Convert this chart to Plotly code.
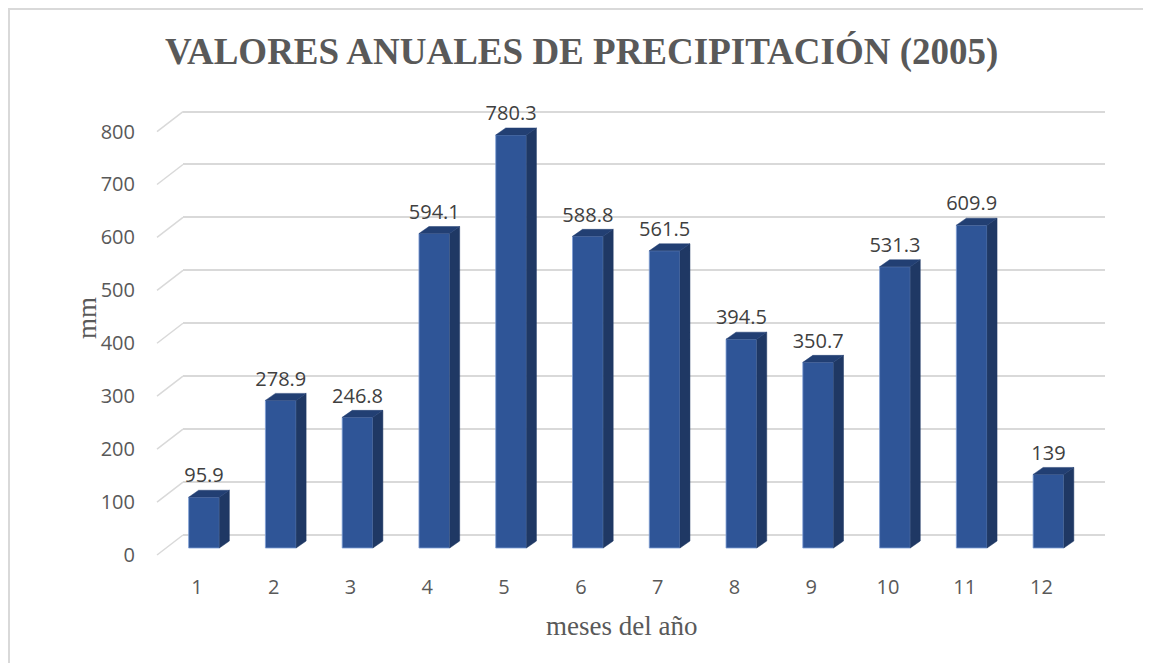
import plotly.graph_objects as go

# ---- data ----
months = [1, 2, 3, 4, 5, 6, 7, 8, 9, 10, 11, 12]
precip = [95.9, 278.9, 246.8, 594.1, 780.3, 588.8, 561.5, 394.5, 350.7, 531.3, 609.9, 139]
labels = ["95.9", "278.9", "246.8", "594.1", "780.3", "588.8", "561.5", "394.5", "350.7", "531.3", "609.9", "139"]
y_ticks = [0, 100, 200, 300, 400, 500, 600, 700, 800]
title_text = "VALORES ANUALES DE PRECIPITACIÓN (2005)"
x_title = "meses del año"
y_title = "mm"

# ---- layout geometry (page pixels; the html body adds an 8px margin) ----
OFF = 8
PAGE_W, PAGE_H = 1151, 671
W, H = PAGE_W - 2 * OFF, PAGE_H - 2 * OFF

def fx(px):
    return px - OFF

grid_left_px = 183
grid_right_px = 1105
plot_top_px = 95
plot_bot_px = 560
axis_label_px = 157

L = fx(axis_label_px)
R = W - fx(grid_right_px)
T = fx(plot_top_px)
B = H - fx(plot_bot_px)
plot_w = W - L - R
plot_h = H - T - B

scale = 0.5293          # px per mm
px_per_cat = 76.77
bar_center0 = 204       # page pixel of month-1 bar centre
label_center0 = 197     # page pixel of month-1 tick label

def yrange(zero_px):
    return [-(plot_bot_px - zero_px) / scale, (zero_px - plot_top_px) / scale]

def xrange(c0):
    return [1 + (grid_left_px - c0) / px_per_cat, 1 + (grid_right_px - c0) / px_per_cat]

def paper_x(px):
    return (px - axis_label_px) / plot_w

def paper_y(py):
    return (plot_bot_px - py) / plot_h

dom_x0 = paper_x(grid_left_px)

FRONT = "#2F5597"
SIDE = "#1F3864"
TOP = "#223F73"
GRID = "#D9D9D9"
TXT = "#595959"

bar_w = 0.40
dx = 10 / px_per_cat
dy = 7 / scale
hw = bar_w / 2

side_x, side_y, top_x, top_y = [], [], [], []
for m, v in zip(months, precip):
    side_x += [m + hw, m + hw + dx, m + hw + dx, m + hw, m + hw, None]
    side_y += [0, dy, v + dy, v, 0, None]
    top_x += [m - hw, m - hw + dx, m + hw + dx, m + hw, m - hw, None]
    top_y += [v, v + dy, v + dy, v, v, None]

fig = go.Figure()

# front faces
fig.add_trace(go.Bar(x=months, y=precip, width=bar_w, xaxis="x", yaxis="y3",
                     marker=dict(color=FRONT, line=dict(color="#7F9ED6", width=0.8)),
                     hoverinfo="skip", showlegend=False))
# side faces
fig.add_trace(go.Scatter(x=side_x, y=side_y, xaxis="x", yaxis="y3", mode="lines",
                         fill="toself", fillcolor=SIDE, line=dict(color=SIDE, width=0.5),
                         hoverinfo="skip", showlegend=False))
# top faces
fig.add_trace(go.Scatter(x=top_x, y=top_y, xaxis="x", yaxis="y3", mode="lines",
                         fill="toself", fillcolor=TOP, line=dict(color=TOP, width=0.5),
                         hoverinfo="skip", showlegend=False))
# data labels
fig.add_trace(go.Scatter(x=months, y=precip, xaxis="x", yaxis="y3", mode="markers+text",
                         text=labels, textposition="top center",
                         marker=dict(size=14, color="rgba(0,0,0,0)"),
                         textfont=dict(family="Open Sans", size=20, color="#404040"),
                         hoverinfo="skip", showlegend=False, cliponaxis=False))
# carrier trace for label axes
fig.add_trace(go.Scatter(x=months, y=precip, xaxis="x2", yaxis="y2", mode="markers",
                         marker=dict(size=1, color="rgba(0,0,0,0)"),
                         hoverinfo="skip", showlegend=False))

# perspective stubs on the left of each grid line
shapes = []
for v in y_ticks:
    shapes.append(dict(type="line", xref="paper", yref="y", xsizemode="pixel", ysizemode="pixel",
                       xanchor=dom_x0, yanchor=v, x0=0, x1=-26, y0=0, y1=-20,
                       line=dict(color=GRID, width=1.5), layer="below"))
# outer chart border: only the left and top edges fall inside the picture
shapes.append(dict(type="line", xref="paper", yref="paper",
                   x0=paper_x(OFF), x1=paper_x(PAGE_W + 40),
                   y0=paper_y(OFF + 1), y1=paper_y(OFF + 1),
                   line=dict(color=GRID, width=2), layer="below"))
shapes.append(dict(type="line", xref="paper", yref="paper",
                   x0=paper_x(OFF + 1), x1=paper_x(OFF + 1),
                   y0=paper_y(OFF), y1=paper_y(PAGE_H + 40),
                   line=dict(color=GRID, width=2), layer="below"))

annotations = [
    dict(text="<b>" + title_text + "</b>", xref="paper", yref="paper",
         x=paper_x(581), y=paper_y(52), showarrow=False,
         xanchor="center", yanchor="middle",
         font=dict(family="Liberation Serif", size=37, color=TXT)),
    dict(text=x_title, xref="paper", yref="paper",
         x=paper_x(621), y=paper_y(626), showarrow=False,
         xanchor="center", yanchor="middle",
         font=dict(family="Liberation Serif", size=27, color=TXT)),
    dict(text=y_title, xref="paper", yref="paper", textangle=-90,
         x=paper_x(87), y=paper_y(318), showarrow=False,
         xanchor="center", yanchor="middle",
         font=dict(family="Liberation Serif", size=27, color=TXT)),
]

fig.update_layout(
    width=W, height=H,
    margin=dict(l=L, r=R, t=T, b=B, pad=0),
    paper_bgcolor="white", plot_bgcolor="white",
    showlegend=False,
    xaxis=dict(domain=[dom_x0, 1], range=xrange(bar_center0), showgrid=False,
               zeroline=False, showticklabels=False, showline=False, ticks=""),
    xaxis2=dict(domain=[dom_x0, 1], range=xrange(label_center0), overlaying="x", anchor="y",
                side="bottom", tickmode="array", tickvals=months,
                ticktext=[str(m) for m in months], showgrid=False, zeroline=False,
                showline=False, ticks="", ticklabelstandoff=13,
                tickfont=dict(family="Open Sans", size=20, color=TXT)),
    yaxis=dict(range=yrange(535), tickmode="array", tickvals=y_ticks, showgrid=True,
               gridcolor=GRID, gridwidth=1.5, zeroline=False, showticklabels=False,
               showline=False, ticks=""),
    yaxis2=dict(range=yrange(555), overlaying="y", anchor="free", position=0, side="left",
                tickmode="array", tickvals=y_ticks, showgrid=False, zeroline=False,
                showline=False, ticks="", ticklabelstandoff=22,
                tickfont=dict(family="Open Sans", size=20, color=TXT)),
    yaxis3=dict(range=yrange(548), overlaying="y", anchor="x", showgrid=False,
                zeroline=False, showticklabels=False, showline=False, ticks=""),
    shapes=shapes,
    annotations=annotations,
)

fig.write_html("out.html")
